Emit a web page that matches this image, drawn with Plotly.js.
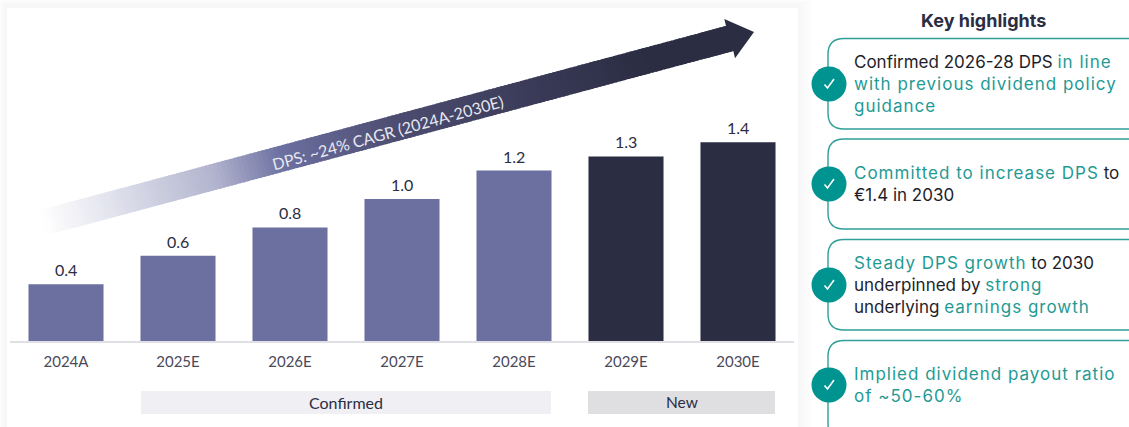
<!DOCTYPE html>
<html>
<head>
<meta charset="utf-8">
<script src="https://cdn.plot.ly/plotly-3.0.1.min.js"></script>
<style>html,body{margin:0;padding:0;background:#fff;overflow:hidden}#chart{width:1129px;height:427px}</style>
</head>
<body>
<div id="chart"></div>
<script>
// Dividend per share by year
const categories = ['2024A','2025E','2026E','2027E','2028E','2029E','2030E'];
const dps = [0.4,0.6,0.8,1.0,1.2,1.3,1.4];
const dpsLabels = ['0.4','0.6','0.8','1.0','1.2','1.3','1.4'];
const barColors = ['#6c70a0','#6c70a0','#6c70a0','#6c70a0','#6c70a0','#2b2d42','#2b2d42'];
const cagrLabel = 'DPS: ~24% CAGR (2024A-2030E)';

const TEAL = '#1f9a94', INK = '#1e1e2a', W = 1129, H = 427;
const teal = s => `<span style="color:${TEAL};letter-spacing:1px">${s}</span>`;
const highlights = [
  {top:38.5, bottom:129, cy:84, text:`Confirmed 2026-28 DPS ${teal('in line')}<br>${teal('with previous dividend policy')}<br>${teal('guidance')}`},
  {top:139, bottom:229, cy:184, text:`${teal('Committed to increase DPS')} to<br>€1.4 in 2030`},
  {top:239.5, bottom:330, cy:285, text:`${teal('Steady DPS growth')} to 2030<br>underpinned by ${teal('strong')}<br>underlying ${teal('earnings growth')}`},
  {top:340.5, bottom:440, cy:385, text:`${teal('Implied dividend payout ratio')}<br>${teal('of ~50-60%')}`}
];

// Pixel helpers: the figure has no margins, so paper space maps straight onto the page
const px = x => x / W, py = y => 1 - y / H;
const poly = pts => 'M' + pts.map(p => px(p[0]) + ',' + py(p[1])).join('L') + 'Z';
const pathShape = (path, fill, layer) => ({type:'path', xref:'paper', yref:'paper', path, fillcolor:fill, line:{width:0}, layer:layer || 'above'});
const rect = (x0,y0,x1,y1,fill,extra) => Object.assign({type:'rect', xref:'paper', yref:'paper', x0:px(x0), x1:px(x1), y0:py(y0), y1:py(y1), fillcolor:fill, line:{width:0}, layer:'below'}, extra||{});

const shapes = [];

// Soft card edge behind the chart panel
[[0,0,812,'#fdfdfd'],[1,1,809,'#fbfbfb'],[2,2,805,'#f9f9f9'],[4,4,801,'#f7f7f7']].forEach(s => shapes.push(rect(s[0],s[1],s[2],H,s[3])));
shapes.push(rect(7,8,798,H,'#ffffff'));

// Period bands under the axis
shapes.push(rect(141,391,551,414,'#efeff4'));
shapes.push(rect(588,391,775,414,'#dfdfe2'));

// Growth arrow: gradient shaft built from thin overlapping slices
const start = [42,223], end = [729.6,38.5], half = 13;
const len = Math.hypot(end[0]-start[0], end[1]-start[1]);
const ux = (end[0]-start[0])/len, uy = (end[1]-start[1])/len, nx = -uy, ny = ux;
const stops = [[0,[255,255,255]],[0.08,[232,233,241]],[0.25,[178,180,207]],[0.35,[108,112,160]],[0.52,[76,76,112]],[0.72,[58,58,88]],[0.88,[43,45,66]],[1,[43,45,66]]];
const colorAt = t => {
  let i = 0;
  while (i < stops.length-2 && t > stops[i+1][0]) i++;
  const a = stops[i], b = stops[i+1], f = (t-a[0])/(b[0]-a[0]);
  return 'rgb(' + a[1].map((v,k) => Math.round(v+(b[1][k]-v)*f)).join(',') + ')';
};
const sliceCount = 170;
for (let i = 0; i < sliceCount; i++) {
  const t0 = i/sliceCount*len, t1 = Math.min(len,(i+1.6)/sliceCount*len);
  const at = (t,s) => [start[0]+ux*t+nx*s*half, start[1]+uy*t+ny*s*half];
  shapes.push(pathShape(poly([at(t0,-1),at(t1,-1),at(t1,1),at(t0,1)]), colorAt((i+0.5)/sliceCount)));
}
// Arrow head, running back over the end of the shaft so no seam shows
shapes.push(pathShape(poly([[700,33],[726,26],[724.3,19],[754,32],[735,58.3],[733.3,51],[707.3,58]]), '#2b2d42'));

// Highlight cards with their check badges
const annotations = [];
highlights.forEach(h => {
  const r = 16, x = 828, xr = 1145, t = px, yy = py;
  const rx = r/W, ry = r/H;
  shapes.push({type:'path', xref:'paper', yref:'paper', layer:'above',
    path:`M${t(xr)},${yy(h.top)}L${t(x)+rx},${yy(h.top)}Q${t(x)},${yy(h.top)} ${t(x)},${yy(h.top)-ry}L${t(x)},${yy(h.bottom)+ry}Q${t(x)},${yy(h.bottom)} ${t(x)+rx},${yy(h.bottom)}L${t(xr)},${yy(h.bottom)}`,
    line:{color:'#2f9f99',width:1.4}, fillcolor:'rgba(0,0,0,0)'});
  shapes.push({type:'circle', xref:'paper', yref:'paper', layer:'above', x0:px(811.5), x1:px(846.5), y0:py(h.cy+17.5), y1:py(h.cy-17.5), fillcolor:'#009490', line:{width:0}});
  shapes.push({type:'path', xref:'paper', yref:'paper', layer:'above',
    path:`M${px(824.5)},${py(h.cy+0.5)}L${px(827.5)},${py(h.cy+4)}L${px(834)},${py(h.cy-5)}`,
    line:{color:'#ffffff',width:1.6}, fillcolor:'rgba(0,0,0,0)'});
  annotations.push({xref:'paper', yref:'paper', x:px(852), y:py(h.cy), xanchor:'left', yanchor:'middle', align:'left', showarrow:false, text:h.text, font:{family:'Inter, sans-serif', size:17, color:INK}});
});

annotations.push({xref:'paper', yref:'paper', x:px(984), y:py(20), xanchor:'center', yanchor:'middle', showarrow:false, text:'<b>Key highlights</b>', font:{family:'Inter, sans-serif', size:18, color:'#2b2d42'}});
annotations.push({xref:'paper', yref:'paper', x:px(346), y:py(402), xanchor:'center', yanchor:'middle', showarrow:false, text:'Confirmed', font:{family:'Lato, sans-serif', size:16, color:'#2b2d42'}});
annotations.push({xref:'paper', yref:'paper', x:px(681.5), y:py(402), xanchor:'center', yanchor:'middle', showarrow:false, text:'New', font:{family:'Lato, sans-serif', size:15.5, color:'#2b2d42'}});
annotations.push({xref:'paper', yref:'paper', x:px(387), y:py(132), xanchor:'center', yanchor:'middle', showarrow:false, textangle:-15.5, text:cagrLabel, font:{family:'Lato, sans-serif', size:16, color:'#e6e7f0'}});

categories.forEach((c,i) => annotations.push({xref:'x', yref:'y', x:c, y:dps[i], yanchor:'bottom', yshift:3, showarrow:false, text:dpsLabels[i], font:{family:'Lato, sans-serif', size:16, color:'#2b2d42'}}));

Plotly.newPlot('chart', [{
  type:'bar',
  x:categories,
  y:dps,
  cliponaxis:false,
  marker:{color:barColors, line:{width:0}},
  hoverinfo:'x+y'
}], {
  width:W, height:H,
  margin:{l:0,r:0,t:0,b:0,pad:0},
  paper_bgcolor:'#ffffff',
  plot_bgcolor:'rgba(0,0,0,0)',
  showlegend:false,
  bargap:0.33,
  xaxis:{domain:[px(10),px(794)], type:'category', range:[-0.5,6.5], showline:true, linecolor:'#dfdfe5', linewidth:2, showgrid:false, zeroline:false, ticks:'outside', ticklen:6, tickcolor:'rgba(0,0,0,0)', tickfont:{family:'Lato, sans-serif', size:15, color:'#4a4a5a'}, fixedrange:true},
  yaxis:{domain:[py(341),py(57)], range:[0,2], visible:false, fixedrange:true},
  shapes,
  annotations
}, {displayModeBar:false, staticPlot:true});
</script>
</body>
</html>
